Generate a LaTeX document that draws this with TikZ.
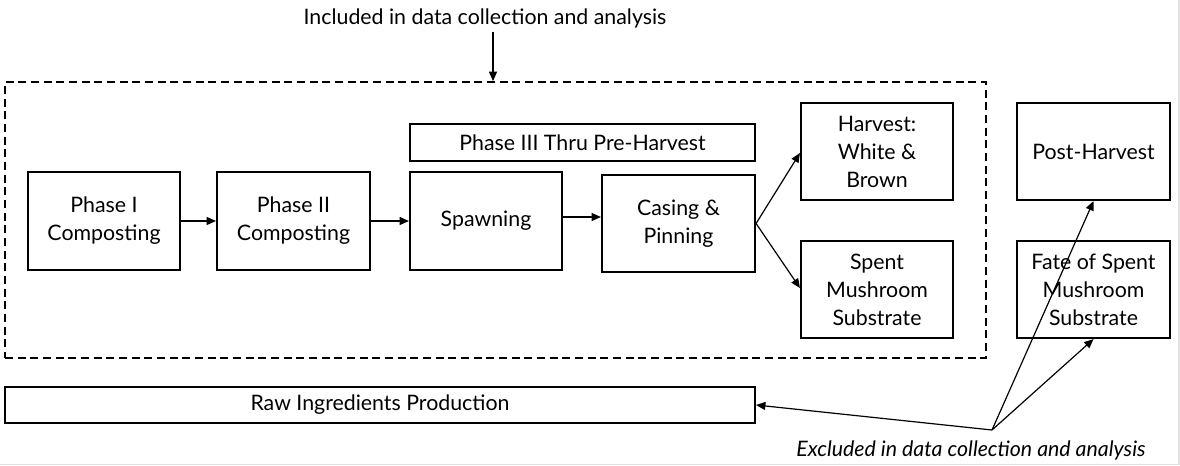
\documentclass[tikz,border=0pt]{standalone}
\usepackage{fontspec}
\setmainfont{Lato}
\usetikzlibrary{arrows.meta}
\begin{document}
\begin{tikzpicture}[x=0.75pt,y=-0.75pt,
  box/.style={draw, line width=1.6pt, inner sep=0pt, align=center,
    font=\fontsize{16}{21}\selectfont},
  conn/.style={line width=0.9pt, -{Triangle[length=7pt,width=6pt]}},
  lbl/.style={inner sep=0pt, font=\fontsize{16}{21}\selectfont}]
\useasboundingbox (0,0) rectangle (1180,466);
\fill[white] (0,0) rectangle (1180,466);
\draw[black!12, line width=0.9pt] (0,464.5) -- (1179,464.5) -- (1179,0);
% dashed frame
\node[draw, dashed, dash pattern=on 6pt off 3.5pt, line width=1.4pt, inner sep=0pt,
  minimum width=735.75pt, minimum height=207pt] (frame) at (495.5,220) {};
\node[lbl] (inc) at (485,18) {Included in data collection and analysis};
\coordinate (incs) at (493,32);
% boxes
\node[box, minimum width=114pt, minimum height=73.5pt] (p1) at (104,221) {Phase I\\Composting};
\node[box, minimum width=114.75pt, minimum height=73.5pt] (p2) at (293.5,221) {Phase II\\Composting};
\node[box, minimum width=114pt, minimum height=73.5pt] (sp) at (486,221) {Spawning};
\node[box, minimum width=258.75pt, minimum height=27.75pt] (p3) at (582.5,142.5) {Phase III Thru Pre-Harvest};
\node[box, minimum width=114.75pt, minimum height=72.75pt] (cas) at (678.5,223.5) {Casing \&\\Pinning};
\node[box, minimum width=114pt, minimum height=72.75pt] (har) at (877,151.5) {Harvest:\\White \&\\Brown};
\node[box, minimum width=114pt, minimum height=72.75pt] (spent) at (877,289.5) {Spent\\Mushroom\\Substrate};
\node[box, minimum width=114.75pt, minimum height=72.75pt] (post) at (1093.5,151.5) {Post-Harvest};
\node[box, minimum width=114.75pt, minimum height=72.75pt] (fate) at (1093.5,289.5) {Fate of Spent\\Mushroom\\Substrate};
\node[box, minimum width=562.5pt, minimum height=27pt] (raw) at (380,405) {Raw Ingredients Production};
\node[lbl, font=\fontsize{16}{21}\selectfont\itshape] (exc) at (971,450) {Excluded in data collection and analysis};
\coordinate (cv) at (992,430);
% connectors
\draw[conn] (incs) -- (incs |- frame.north);
\draw[conn] (p1.east) -- (p2.west);
\draw[conn] (p2.east) -- (sp.west);
\draw[conn] (sp.east |- 0,217) -- (cas.west |- 0,217);
\draw[conn] (cas.east) -- (har.west |- 0,153);
\draw[conn] (cas.east) -- (spent.west |- 0,288);
\draw[conn] (cv) -- (raw.east);
\draw[conn] (cv) -- (post.south);
\draw[conn] (cv) -- (fate.south);
\end{tikzpicture}
\end{document}
